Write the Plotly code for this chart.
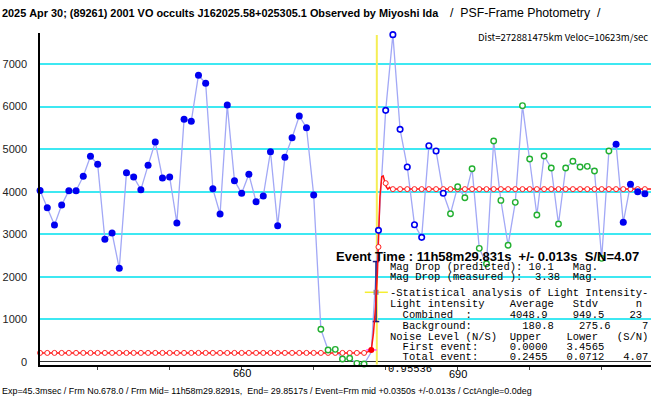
import plotly.graph_objects as go

# ---------------- data ----------------
frames = list(range(632, 717))
obs_values = [
    4030, 3620, 3216, 3686, 4023, 4023, 4360, 4830, 4642, 2880,
    3028, 2198, 4446, 4344, 4047, 4619, 5167, 4321, 4344, 3263,
    5700, 5655, 6737, 6546, 4066, 3475, 6036, 4258, 3961, 4407,
    3765, 3898, 4939, 3201, 4807, 5268, 5778, 5503, 3921,
    765, 278, 294, 67, 83, -35, -50,
    230,
    3091, 5911, 7690, 5465, 4579, 3224, 2926, 5080, 4955, 3961,
    3482, 4117, 3858, 4540, 2668, 2307, 5190, 3795, 2740, 3749,
    6021, 4767, 3451, 4838, 4556, 3240, 4556, 4713, 4579, 4595,
    4485, 2433, 4955,
    5112, 3279, 4172, 3999, 3952,
]
# D = filled blue, G = green open, B = blue open, N = hidden
obs_kind = "D" * 39 + "G" * 7 + "N" + "B" * 10 + "G" * 23 + "D" * 5

model_bg = 210
model_top = 4060
model_circle_values = [model_bg] * 46 + [280, 2700, 4200] + [model_top] * 36

model_curve_frames = [631.99, 677.0, 677.5, 678.0, 678.3, 678.6, 678.85, 679.0, 679.2,
                      679.45, 679.65, 679.85, 680.05, 680.3, 680.55, 680.8, 681.1, 716.85]
model_curve_values = [210, 210, 235, 280, 670, 1300, 2080, 2680, 3880,
                      4350, 4370, 4250, 4120, 4060, 4100, 4050, 4060, 4060]

event_frame = 678.77
errbar_frame = 678.66
errbar_low, errbar_mid, errbar_high = 947, 1635, 2357

y_tick_vals = [0, 1000, 2000, 3000, 4000, 5000, 6000, 7000]
x_tick_vals = [640, 650, 660, 670, 680, 690, 700, 710]

title_bold = "2025 Apr 30; (89261) 2001 VO occults J162025.58+025305.1 Observed by Miyoshi Ida"
title_rest = "/  PSF-Frame Photometry  /"
dist_text = "Dist=272881475km Veloc=10623m/sec"
bottom_text = ("Exp=45.3msec / Frm No.678.0 / Frm Mid= 11h58m29.8291s,  End= 29.8517s / "
               "Event=Frm mid +0.0350s +/-0.013s / CctAngle=0.0deg")
event_text = "Event Time : 11h58m29.831s  +/- 0.013s  S/N=4.07"
stat_lines = [
    "Mag Drop (predicted): 10.1   Mag.",
    "Mag Drop (measured ):  3.38  Mag.",
    "-Statistical analysis of Light Intensity-",
    "Light intensity    Average   Stdv      n",
    "  Combined  :      4048.9    949.5    23",
    "  Background:        180.8    275.6     7",
    "Noise Level (N/S)  Upper    Lower   (S/N)",
    "  First event:     0.0000   3.4565",
    "  Total event:     0.2455   0.0712   4.07",
]

# ---------------- figure ----------------
W, H = 651, 405
ML, MR, MT, MB = 40, 0, 33, 40
PW, PH = W - ML - MR, H - MT - MB


def px(x):
    return (x - ML) / PW


def py(y):
    return (H - MB - y) / PH


SANS = "Liberation Sans, Arial, sans-serif"
CJK = "Noto Sans CJK JP, Liberation Sans, sans-serif"
MONO = "Liberation Mono, DejaVu Sans Mono, monospace"

fig = go.Figure()

# yellow event line
fig.add_trace(go.Scatter(x=[event_frame, event_frame], y=[7680, -60], mode="lines",
                         line=dict(color="#F5EE55", width=2), hoverinfo="skip"))

# observed connecting line
fig.add_trace(go.Scatter(x=frames, y=obs_values, mode="lines",
                         line=dict(color="#A2A8F6", width=1.3), hoverinfo="skip"))

# error bar
cap = 0.45
fig.add_trace(go.Scatter(
    x=[errbar_frame, errbar_frame, None, errbar_frame - cap, errbar_frame + cap, None,
       errbar_frame - cap, errbar_frame + cap],
    y=[errbar_low, errbar_high, None, errbar_high, errbar_high, None, errbar_low, errbar_low],
    mode="lines", line=dict(color="#1A1A80", width=1.5), hoverinfo="skip"))
fig.add_trace(go.Scatter(x=[677.1, 680.3], y=[errbar_mid, errbar_mid], mode="lines",
                         line=dict(color="#F5EE30", width=1.5), hoverinfo="skip"))
fig.add_trace(go.Scatter(x=[errbar_frame], y=[errbar_mid], mode="markers",
                         marker=dict(symbol="square", size=5, color="#8080A0"), hoverinfo="skip"))

# model curve
fig.add_trace(go.Scatter(x=model_curve_frames, y=model_curve_values, mode="lines",
                         line=dict(color="#FF1010", width=1.5), hoverinfo="skip"))
# model circles
circ_x = [f for f in frames if f != 678]
circ_y = [v for f, v in zip(frames, model_circle_values) if f != 678]
fig.add_trace(go.Scatter(x=circ_x, y=circ_y, mode="markers", cliponaxis=False,
                         marker=dict(symbol="circle", size=5, color="white",
                                     line=dict(color="#FF2020", width=1)), hoverinfo="skip"))
# event frame marker
fig.add_trace(go.Scatter(x=[677.3, 678.75], y=[model_circle_values[46]] * 2, mode="lines",
                         line=dict(color="#FF40FF", width=1.5), hoverinfo="skip"))
fig.add_trace(go.Scatter(x=[678], y=[model_circle_values[46]], mode="markers",
                         marker=dict(symbol="circle", size=6, color="#FF0000"), hoverinfo="skip"))


# observed markers
def sel(k):
    xs = [f for f, kk in zip(frames, obs_kind) if kk == k]
    ys = [v for v, kk in zip(obs_values, obs_kind) if kk == k]
    return xs, ys


xs, ys = sel("D")
fig.add_trace(go.Scatter(x=xs, y=ys, mode="markers", cliponaxis=False,
                         marker=dict(symbol="circle", size=7, color="#0000F0"), hoverinfo="skip"))
xs, ys = sel("B")
fig.add_trace(go.Scatter(x=xs, y=ys, mode="markers", cliponaxis=False,
                         marker=dict(symbol="circle", size=5.5, color="white",
                                     line=dict(color="#0000F0", width=1.6)), hoverinfo="skip"))
xs, ys = sel("G")
fig.add_trace(go.Scatter(x=xs, y=ys, mode="markers", cliponaxis=False,
                         marker=dict(symbol="circle", size=5.5, color="white",
                                     line=dict(color="#22B030", width=1.4)), hoverinfo="skip"))

# ---------------- annotations ----------------
ann = []


def text(x, y, s, size, family=SANS, bold=False, anchor="left", color="black"):
    s = s.replace(" ", "\u00a0")
    if bold:
        s = "<b>" + s + "</b>"
    ann.append(dict(x=px(x), y=py(y), xref="paper", yref="paper", text=s, showarrow=False,
                    xanchor=anchor, yanchor="middle", borderpad=0,
                    font=dict(family=family, size=size, color=color)))


text(1, 13, title_bold, 10.9, family=SANS, bold=True)
text(449, 13, title_rest, 12.3)
text(649, 37, dist_text, 9.6, family=CJK, anchor="right")
text(1, 391, bottom_text, 8.95, family=SANS)
text(335, 256, event_text, 13, bold=True)

stat_y = [266.7, 277.3, 293.3, 304, 315, 326, 337.3, 347.3, 357.3]
for s, y in zip(stat_lines, stat_y):
    text(388.5, y, s, 10.5, family=MONO)

text(241.7, 373, "660", 11, anchor="center")
text(458, 374, "690", 11, anchor="center")
text(386.5, 369, "0.95536", 10.5, family=MONO)

fig.update_layout(
    width=W, height=H, margin=dict(l=ML, r=MR, t=MT, b=MB),
    paper_bgcolor="white", plot_bgcolor="white", showlegend=False,
    annotations=ann,
    xaxis=dict(range=[631.99, 716.85], showgrid=False, zeroline=False,
               showline=True, linecolor="black", linewidth=1.5,
               ticks="outside", ticklen=3, tickcolor="#444", tickvals=x_tick_vals,
               showticklabels=False),
    yaxis=dict(range=[-74, 7729], showgrid=True, gridcolor="#3EE8F2", gridwidth=1.5,
               zeroline=True, zerolinecolor="#333", zerolinewidth=1,
               showline=True, linecolor="black", linewidth=1.5,
               tickvals=y_tick_vals, ticks="", ticklabelstandoff=9,
               tickfont=dict(family=SANS, size=11, color="#222")),
)

fig.write_html("out.html", config={"displayModeBar": False},
               post_script="document.body.style.margin='0px';")
